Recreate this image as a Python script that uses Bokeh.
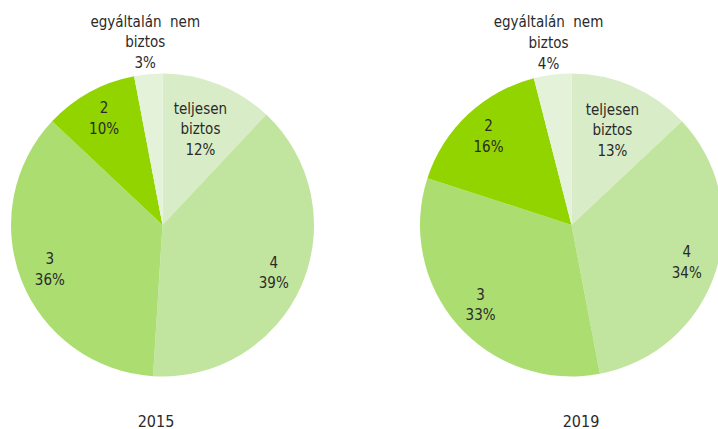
import math
from bokeh.plotting import figure
from bokeh.models import ColumnDataSource, Range1d
from bokeh.core.properties import value
from bokeh.embed import file_html
from bokeh.resources import INLINE

# ---- data ----
categories = ["teljesen\nbiztos", "4", "3", "2", "egyáltalán\u00a0\u00a0nem\nbiztos"]
values_2015 = [12, 39, 36, 10, 3]
values_2019 = [13, 34, 33, 16, 4]
years = ["2015", "2019"]

# ---- style / layout ----
colors = ["#d8edc7", "#c1e59e", "#acdd70", "#92d400", "#e3f2d9"]
label_r = [0.68, 0.80, 0.80, 0.80, 1.21]
W, H = 718, 429
R = 151.5
centers = [(162, 204.5), (571, 204.5)]
title_x = [155.5, 580.5]
title_y = 9
FONT = "'DejaVu Sans Condensed', 'DejaVu Sans', sans-serif"

p = figure(width=W, height=H, output_backend="svg", toolbar_location=None,
           x_range=Range1d(0, W), y_range=Range1d(0, H), min_border=0)
p.axis.visible = False
p.grid.visible = False
p.outline_line_color = None
p.background_fill_color = "white"

for (cx, cy), vals, yr, tx in zip(centers, [values_2015, values_2019], years, title_x):
    total = sum(vals)
    starts, ends, lx, ly, texts = [], [], [], [], []
    cum = 0.0
    for i, v in enumerate(vals):
        a0 = math.pi / 2 - 2 * math.pi * cum / total
        cum += v
        a1 = math.pi / 2 - 2 * math.pi * cum / total
        starts.append(a0)
        ends.append(a1)
        mid = (a0 + a1) / 2
        lx.append(cx + label_r[i] * R * math.cos(mid))
        ly.append(cy + label_r[i] * R * math.sin(mid))
        texts.append(f"{categories[i]}\n{v}%")
    src = ColumnDataSource(dict(x=[cx] * len(vals), y=[cy] * len(vals),
                                start=starts, end=ends, color=colors))
    p.wedge(x="x", y="y", radius=R, start_angle="start", end_angle="end",
            direction="clock", fill_color="color", line_color=None, source=src)
    lsrc = ColumnDataSource(dict(x=lx, y=ly, t=texts))
    p.text(x="x", y="y", text="t", source=lsrc, text_align="center",
           text_baseline="middle", text_font=value(FONT), text_font_size="15px",
           text_color="#2a2a2a", text_line_height=1.15)
    p.text(x=[tx], y=[title_y], text=[yr], text_align="center",
           text_baseline="middle", text_font=value(FONT), text_font_size="16px",
           text_color="#2a2a2a")

open("out.html", "w").write(file_html(p, INLINE))
